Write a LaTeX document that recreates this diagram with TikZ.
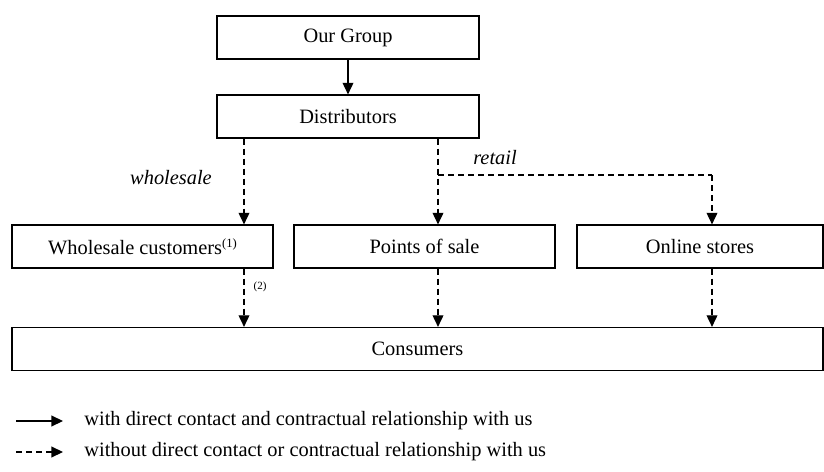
\documentclass[tikz,border=0pt]{standalone}
\usepackage{fontspec}
\setmainfont{Liberation Serif}
\usepackage{tikz}
\usetikzlibrary{positioning,arrows.meta,calc}
\newcommand{\supnote}[1]{\raisebox{3.6pt}{\fontsize{6.3}{7}\selectfont #1}}
\tikzset{
 box/.style={draw, line width=0.6pt, minimum height=21.5pt, inner sep=0pt, font=\fontsize{10.2}{12}\selectfont},
 solidarr/.style={-{Triangle[length=5.8pt,width=5.4pt]}, line width=0.6pt},
 dasharr/.style={-{Triangle[length=5.8pt,width=5.4pt]}, line width=0.6pt, dash pattern=on 3pt off 2pt},
 dline/.style={line width=0.6pt, dash pattern=on 3pt off 2pt},
 lbl/.style={font=\fontsize{10.2}{12}\selectfont\itshape, inner sep=0pt},
 legtext/.style={anchor=west, inner sep=0pt, font=\fontsize{10.2}{12}\selectfont}
}

\begin{document}
\begin{tikzpicture}[x=0.5pt,y=-0.5pt]
\useasboundingbox (0,0) rectangle (824,471);
\node[box, minimum width=131pt] (grp) at (348,37.5) {Our Group};
\node[box, minimum width=131pt] (dist) at (348,116.5) {Distributors};
\node[box, minimum width=130.5pt] (whl) at (142.5,246.5) {Wholesale customers\supnote{(1)}};
\node[box, minimum width=130.5pt] (pos) at (424.5,246.5) {Points of sale};
\node[box, minimum width=123pt] (onl) at (700,246.5) {Online stores};
\node[box, minimum width=405.5pt] (cons) at (417.5,349) {Consumers};
% channel labels
\node[lbl] (wlbl) at (171,178) {wholesale};
\node[lbl] (rlbl) at (495,158) {retail};
\node[inner sep=0pt, font=\fontsize{5.5}{6}\selectfont] (fn2) at (260,287) {(2)};
\coordinate (br) at (438,175);
\coordinate (wx) at (244,0);
\coordinate (ox) at (712,0);
\draw[solidarr] (grp.south) -- (dist.north);
\draw[dasharr] (dist.south -| wx) -- (whl.north -| wx);
\draw[dasharr] (dist.south -| br) -- (pos.north -| br);
\draw[dline] (br) -- (br -| ox);
\draw[dasharr] (br -| ox) -- (onl.north -| ox);
\draw[dasharr] (whl.south -| wx) -- (cons.north -| wx);
\draw[dasharr] (pos.south -| br) -- (cons.north -| br);
\draw[dasharr] (onl.south -| ox) -- (cons.north -| ox);
% legend
\coordinate (l1a) at (16,421);
\coordinate (l1b) at (63,421);
\coordinate (l2a) at (16,452);
\coordinate (l2b) at (63,452);
\draw[solidarr] (l1a) -- (l1b);
\draw[dasharr] (l2a) -- (l2b);
\node[legtext] (leg1) at (84,421) {with direct contact and contractual relationship with us};
\node[legtext] (leg2) at (84,452) {without direct contact or contractual relationship with us};
\end{tikzpicture}
\end{document}
